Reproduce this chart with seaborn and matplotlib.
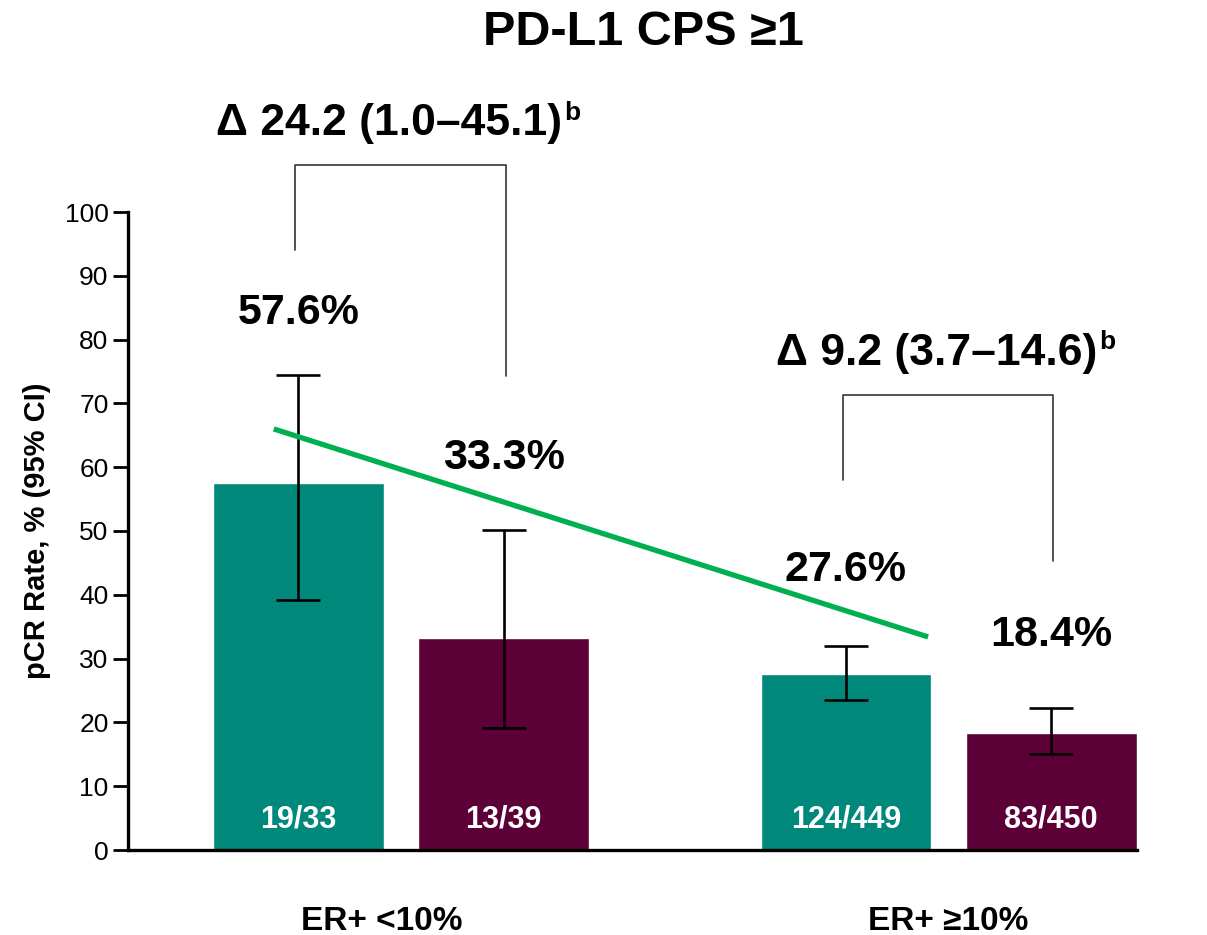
# import libraries
import pandas as pd
import matplotlib.pyplot as plt
import seaborn as sns

# chart values
groups = ['ER+ <10%', 'ER+ ≥10%']
arms = ['Pembrolizumab + chemo', 'Placebo + chemo']
rates = [57.6, 33.3, 27.6, 18.4]        # order: group1 arm1, group1 arm2, group2 arm1, group2 arm2
ci_low = [39.2, 19.1, 23.5, 15.0]
ci_high = [74.5, 50.2, 32.0, 22.3]
counts = ['19/33', '13/39', '124/449', '83/450']
deltas = ['Δ 24.2 (1.0–45.1)', 'Δ 9.2 (3.7–14.6)']
trend = [66.0, 33.4]
yticks = list(range(0, 101, 10))

teal = '#00897B'
maroon = '#5E0038'
green = '#00B050'

df = pd.DataFrame({
    'group': [g for g in groups for _ in arms],
    'arm': arms * len(groups),
    'rate': rates,
})

sns.set_style('white')
plt.rcParams['font.family'] = ['Liberation Sans', 'DejaVu Sans']
plt.rcParams['text.color'] = 'black'
plt.rcParams['axes.labelcolor'] = 'black'
plt.rcParams['xtick.color'] = 'black'
plt.rcParams['ytick.color'] = 'black'

fig = plt.figure(figsize=(12.07, 9.35), dpi=100)
ax = fig.add_axes([128 / 1207, 85 / 935, 1009 / 1207, 638 / 935])

sns.barplot(data=df, x='group', y='rate', hue='arm', palette=[teal, maroon],
            saturation=1, width=0.75, gap=0.17, errorbar=None, legend=False, ax=ax)

# bar centres in drawing order
bars = sorted([p for p in ax.patches if p.get_height() > 0], key=lambda p: p.get_x())
xc = [p.get_x() + p.get_width() / 2 for p in bars]

# confidence intervals
lo = [r - l for r, l in zip(rates, ci_low)]
hi = [h - r for r, h in zip(rates, ci_high)]
ax.errorbar(xc, rates, yerr=[lo, hi], fmt='none', ecolor='black',
            elinewidth=1.9, capsize=15.5, capthick=1.9, zorder=4)

# value labels
lab_y = [84.2, 61.4, 43.9, 33.7]
for x, r, y in zip(xc, rates, lab_y):
    ax.text(x, y, f'{r}%', ha='center', va='center', fontsize=31,
            fontweight='bold')

# counts inside bars
for x, c in zip(xc, counts):
    ax.text(x, 4.8, c, ha='center', va='center', fontsize=22, fontweight='bold',
            color='white')

# trend line across the teal bars
ax.plot([xc[0] - 0.045, xc[2] + 0.15], trend, color=green, lw=3.8,
        solid_capstyle='butt', zorder=5)

# difference brackets
br = [(107.4, 94.0, 74.3, 113.8), (71.3, 58.0, 45.3, 77.8)]
for i, (top, lbot, rbot, ty) in enumerate(br):
    xl, xr = xc[2 * i] - 0.006, xc[2 * i + 1] + 0.004
    ax.plot([xl, xl, xr, xr], [lbot, top, top, rbot], color='#333333',
            lw=1.2, clip_on=False)
    t = ax.text((xl + xr) / 2 - 0.02, ty, deltas[i], ha='center', va='center',
                fontsize=32, fontweight='bold', clip_on=False)
    ax.annotate('b', xy=(1, 1), xycoords=t, xytext=(1, 2), textcoords='offset points',
                ha='left', va='top', fontsize=19, fontweight='bold')

# axes styling
ax.set_ylim(0, 100)
ax.set_xlim(-0.4986, 1.344)
ax.set_yticks(yticks)
ax.set_yticklabels([str(v) for v in yticks], fontsize=19)
ax.set_xticks([-0.035, 1])
ax.set_xticklabels(groups, fontsize=24, fontweight='bold')
ax.tick_params(axis='x', length=0, pad=40)
ax.tick_params(axis='y', length=11, width=2, pad=3, left=True)
ax.set_xlabel('')
ax.set_ylabel('pCR Rate, % (95% CI)', fontsize=21, fontweight='bold', labelpad=10)
for s in ['top', 'right']:
    ax.spines[s].set_visible(False)
for s in ['left', 'bottom']:
    ax.spines[s].set_linewidth(2.4)
    ax.spines[s].set_color('black')

fig.text(0.533, 0.965, 'PD-L1 CPS ≥1', ha='center', va='center', fontsize=35,
         fontweight='bold')

plt.savefig('out.png', dpi=100)
